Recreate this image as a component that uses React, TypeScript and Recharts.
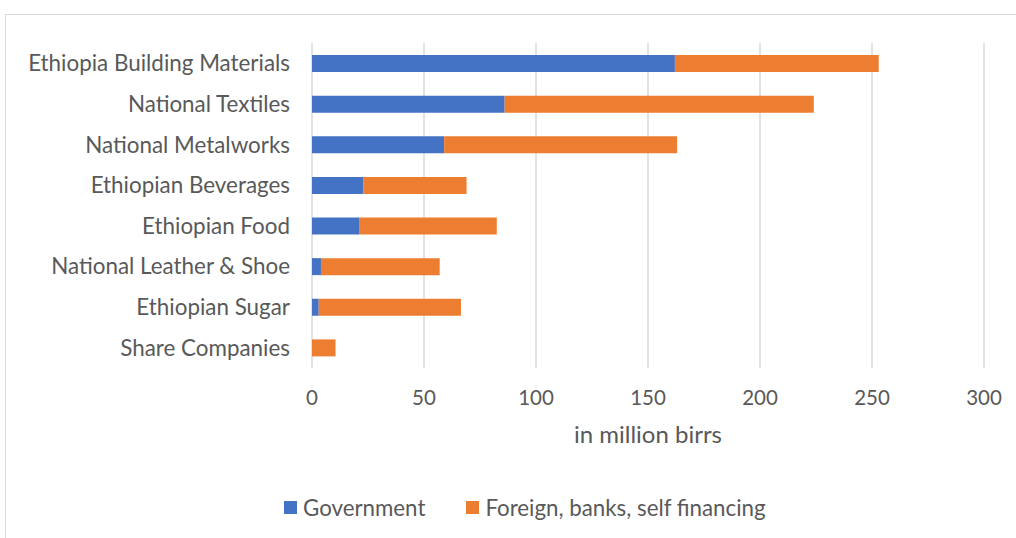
import { Bar, BarChart, CartesianGrid, XAxis, YAxis } from 'recharts'

const companies = [
  'Ethiopia Building Materials',
  'National Textiles',
  'National Metalworks',
  'Ethiopian Beverages',
  'Ethiopian Food',
  'National Leather & Shoe',
  'Ethiopian Sugar',
  'Share Companies',
]

const government = [162, 86, 59, 23, 21, 4, 3, 0]
const otherFinancing = [91, 138, 104, 46, 61.5, 53, 63.5, 10.5]

const xTicks = [0, 50, 100, 150, 200, 250, 300]

const seriesNames = ['Government', 'Foreign, banks, self financing']
const blue = '#4472c4'
const orange = '#ed7d31'
const textColor = '#595959'
const font = 'Lato, "Open Sans", sans-serif'

const rows = companies.map((name, i) => ({
  name,
  government: government[i],
  other: otherFinancing[i],
}))

export default function App() {
  return (
    <div style={{ position: 'absolute', left: 0, top: 0, width: 1016, height: 538, background: '#fff', fontFamily: font }}>
      <div
        style={{
          position: 'absolute',
          left: 5,
          top: 14,
          width: 1030,
          height: 540,
          border: '1px solid #d9d9d9',
        }}
      />
      <div style={{ position: 'absolute', left: 0, top: 0 }}>
        <BarChart
          width={1016}
          height={538}
          data={rows}
          layout="vertical"
          margin={{ top: 43, right: 32, bottom: 0, left: 0 }}
          barSize={17}
        >
          <CartesianGrid horizontal={false} stroke="#d9d9d9" strokeWidth={1.5} />
          <XAxis
            type="number"
            domain={[0, 300]}
            ticks={xTicks}
            height={170}
            axisLine={false}
            tickLine={false}
            tickSize={0}
            tickMargin={22}
            tick={{ fill: textColor, fontSize: 20.5, fontFamily: font }}
            label={{
              value: 'in million birrs',
              position: 'insideTop',
              offset: 58,
              fill: textColor,
              fontSize: 24,
              fontFamily: font,
            }}
          />
          <YAxis
            type="category"
            dataKey="name"
            width={312}
            axisLine={false}
            tickLine={false}
            tickSize={0}
            tickMargin={22}
            tick={{ fill: textColor, fontSize: 22.4, fontFamily: font }}
          />
          <Bar dataKey="government" stackId="a" fill={blue} name={seriesNames[0]} isAnimationActive={false} />
          <Bar dataKey="other" stackId="a" fill={orange} name={seriesNames[1]} isAnimationActive={false} />
        </BarChart>
      </div>
      <div
        style={{
          position: 'absolute',
          top: 494,
          left: 284,
          display: 'flex',
          alignItems: 'center',
          color: textColor,
          fontSize: 22.3,
          whiteSpace: 'nowrap',
        }}
      >
        {seriesNames.map((s, i) => (
          <div key={s} style={{ display: 'flex', alignItems: 'center', marginRight: i === 0 ? 41 : 0 }}>
            <span style={{ width: 13, height: 13, background: i === 0 ? blue : orange, marginRight: 6, display: 'inline-block' }} />
            {s}
          </div>
        ))}
      </div>
    </div>
  )
}
